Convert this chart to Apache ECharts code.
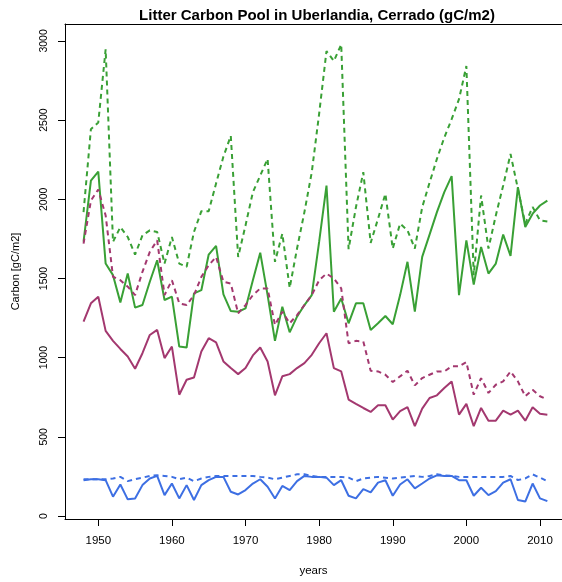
<!DOCTYPE html>
<html>
<head>
<meta charset="utf-8">
<script src="https://cdn.jsdelivr.net/npm/echarts@6/dist/echarts.min.js"></script>
<style>
html,body{margin:0;padding:0;background:#fff;}
#chart{width:562px;height:582px;}
</style>
</head>
<body>
<div id="chart"></div>
<script>
var years = [1948,1949,1950,1951,1952,1953,1954,1955,1956,1957,1958,1959,1960,1961,1962,1963,1964,1965,1966,1967,1968,1969,1970,1971,1972,1973,1974,1975,1976,1977,1978,1979,1980,1981,1982,1983,1984,1985,1986,1987,1988,1989,1990,1991,1992,1993,1994,1995,1996,1997,1998,1999,2000,2001,2002,2003,2004,2005,2006,2007,2008,2009,2010,2011];

var greenSolid = [1733,2118,2175,1594,1521,1349,1531,1316,1332,1479,1615,1364,1385,1070,1064,1406,1426,
  1651,1706,1399,1294,1290,1311,1489,1663,1395,1106,1322,1160,1259,1332,1395,1731,2087,
  1290,1374,1217,1343,1343,1175,1217,1263,1211,1395,1605,1290,1636,1777,1919,2045,2146,
  1395,1741,1462,1699,1531,1594,1777,1643,2077,1825,1909,1961,1992];

var greenDashed = [1919,2443,2485,2947,1731,1825,1762,1651,1772,1804,1794,1594,1762,1594,1574,1794,1925,
  1925,2100,2270,2401,1636,1835,2045,2150,2255,1605,1783,1440,1689,1919,2171,2540,2936,
  2873,2978,1685,1950,2171,1725,1877,2035,1689,1846,1804,1689,1950,2105,2255,2390,2506,
  2632,2842,1521,2024,1689,1898,2087,2286,2066,1846,1951,1867,1860];

var purpleSolid = [1228,1343,1385,1169,1106,1055,1007,930,1028,1143,1175,997,1070,766,860,875,1039,
  1123,1097,976,934,896,934,1014,1064,976,762,882,896,934,965,1018,1091,1154,
  934,913,735,708,682,657,699,699,609,662,687,567,678,745,762,808,850,
  640,708,567,682,602,602,665,640,665,602,687,645,640];

var purpleDashed = [1720,1992,2062,1898,1511,1489,1448,1395,1542,1668,1741,1395,1489,1343,1332,1395,1510,
  1584,1636,1479,1468,1280,1332,1395,1437,1437,1206,1290,1217,1269,1332,1395,1489,1531,
  1500,1437,1091,1106,1102,917,913,892,846,882,917,825,871,892,913,913,945,
  945,972,766,871,777,829,850,913,850,756,797,756,735];

var blueSolid = [226,232,232,226,122,199,105,111,195,237,253,132,205,
  111,195,101,195,226,247,247,153,136,164,205,232,185,
  111,190,164,220,253,247,247,242,195,226,128,111,170,
  149,211,226,128,199,232,174,205,237,257,253,253,226,
  226,128,178,132,157,211,232,101,91,205,111,94];

var blueDashed = [232,232,232,232,237,247,220,232,242,253,257,253,247,
  232,242,220,237,247,253,253,253,253,253,253,247,242,
  232,242,253,263,263,253,247,247,247,247,242,220,237,
  242,247,242,237,242,247,253,247,253,263,257,253,247,
  247,247,247,247,247,247,253,227,237,263,242,220];

var yTicks = [0,500,1000,1500,2000,2500,3000];
var xTicks = [1950,1960,1970,1980,1990,2000,2010];

var GREEN = '#39a035', PURPLE = '#a3386f', BLUE = '#3d6fe3';
var FONT = 'Liberation Sans';
var XMIN = 1945.48, XMAX = 2012.99;

function pairs(vals){ return years.map(function(y,i){ return [y, vals[i]]; }); }
function line(vals, color, dashed){
  return {
    type:'line', data:pairs(vals), symbol:'none', silent:true, xAxisIndex:0, yAxisIndex:0,
    lineStyle:{color:color, width:2, type: dashed ? [5,4] : 'solid'},
    itemStyle:{color:color}
  };
}

var chart = echarts.init(document.getElementById('chart'), null, {renderer:'canvas'});
chart.setOption({
  animation:false,
  backgroundColor:'#fff',
  title:{
    text:'Litter Carbon Pool in Uberlandia, Cerrado (gC/m2)',
    left:312, textAlign:'center', top:3,
    textStyle:{fontFamily:FONT, fontSize:15, fontWeight:'bold', color:'#000'}
  },
  grid:{left:65, top:24, right:0, bottom:61, show:false},
  xAxis:[{
    type:'value', min:XMIN, max:XMAX, position:'bottom',
    name:'years', nameLocation:'middle', nameGap:46,
    nameTextStyle:{fontFamily:FONT, fontSize:11.5, color:'#000'},
    axisLine:{show:true, onZero:false, lineStyle:{color:'#000', width:1}},
    axisTick:{show:true, length:7, lineStyle:{color:'#000'}, customValues:xTicks},
    axisLabel:{fontFamily:FONT, fontSize:11.5, color:'#000', margin:16, customValues:xTicks,
      formatter:function(v){return String(v);}},
    splitLine:{show:false}
  },{
    type:'value', min:XMIN, max:XMAX, position:'top',
    axisLine:{show:true, onZero:false, lineStyle:{color:'#000', width:1}},
    axisTick:{show:false}, axisLabel:{show:false}, splitLine:{show:false}
  }],
  yAxis:{
    type:'value', min:-19, max:3107,
    name:'Carbon [gC/m2]', nameLocation:'middle', nameGap:44,
    nameTextStyle:{fontFamily:FONT, fontSize:11, color:'#000'},
    axisLine:{show:true, onZero:false, lineStyle:{color:'#000', width:1}},
    axisTick:{show:true, length:7, lineStyle:{color:'#000'}, customValues:yTicks},
    axisLabel:{fontFamily:FONT, fontSize:10.5, color:'#000', margin:15, rotate:90, customValues:yTicks,
      formatter:function(v){return String(v);}},
    splitLine:{show:false}
  },
  series:[
    line(greenSolid, GREEN, false),
    line(greenDashed, GREEN, true),
    line(purpleSolid, PURPLE, false),
    line(purpleDashed, PURPLE, true),
    line(blueSolid, BLUE, false),
    line(blueDashed, BLUE, true)
  ]
});
</script>
</body>
</html>
